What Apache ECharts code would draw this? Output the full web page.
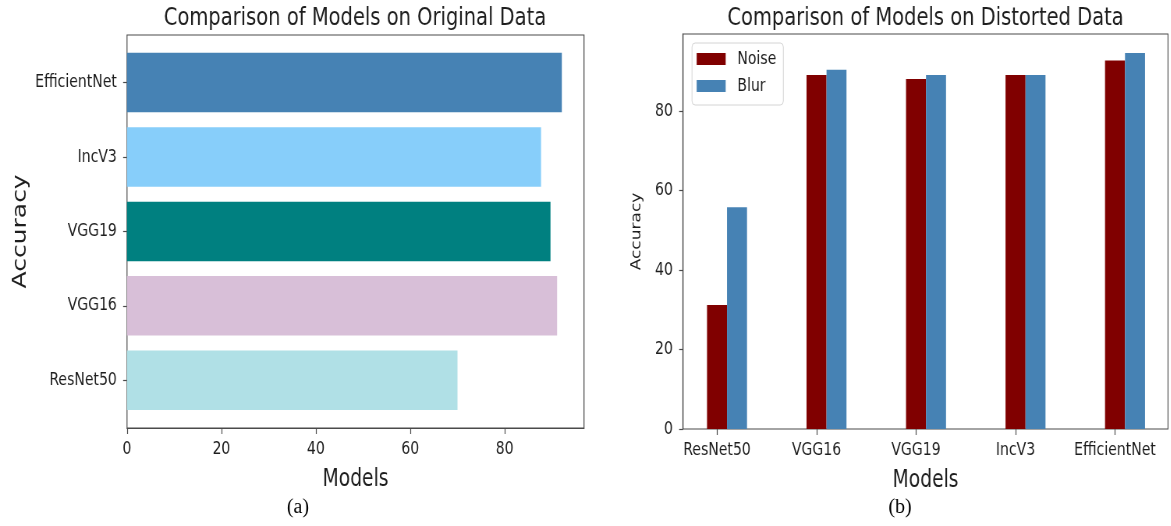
<!DOCTYPE html>
<html>
<head>
<meta charset="utf-8">
<script src="https://cdn.jsdelivr.net/npm/echarts@6/dist/echarts.min.js"></script>
<style>
  html, body { margin: 0; padding: 0; background: #fff; overflow: hidden; width: 1171px; height: 526px; }
  /* the figure is laid out wide and narrowed horizontally, like the exported plot */
  #chart { width: 1501px; height: 526px; transform: scaleX(0.78); transform-origin: 0 0; }
</style>
</head>
<body>
<div id="chart"></div>
<script>
// Panel (a): accuracy on the original data, listed bottom to top
const originalModels = ['ResNet50', 'VGG16', 'VGG19', 'IncV3', 'EfficientNet'];
const originalAccuracy = [70.0, 91.1, 89.7, 87.7, 92.1];
const originalColors = ['#B0E0E6', '#D8BFD8', '#008080', '#87CEFA', '#4682B4'];

// Panel (b): accuracy on distorted data
const distortedModels = ['ResNet50', 'VGG16', 'VGG19', 'IncV3', 'EfficientNet'];
const noiseAccuracy = [31.2, 89.1, 88.1, 89.1, 92.7];
const blurAccuracy = [55.8, 90.4, 89.1, 89.1, 94.6];

const tickValues = [0, 20, 40, 60, 80];

// horizontal squeeze applied to the container; X() turns on-page px into layout px
const S = 0.78;
const X = v => v / S;

const sans = "'DejaVu Sans', sans-serif";
const ink = '#1e1e1e';
const spine = '#4a4a4a';

const chart = echarts.init(document.getElementById('chart'));

const tickLabel = { color: ink, fontFamily: sans, fontSize: 18 };
const xTick = { show: true, length: 6, lineStyle: { color: spine, width: 1.2 } };
const yTick = { show: true, length: 5, lineStyle: { color: spine, width: 1.2 } };

chart.setOption({
  animation: false,
  legend: {
    data: ['Noise', 'Blur'],
    orient: 'vertical',
    left: X(692), top: 43,
    padding: [7, 9, 10, 6],
    itemGap: 9,
    itemWidth: X(29), itemHeight: 12,
    icon: 'rect',
    backgroundColor: '#fff',
    borderColor: '#d4d4d4', borderWidth: 1, borderRadius: 4,
    textStyle: { color: ink, fontFamily: sans, fontSize: 18, padding: [0, 0, 0, 10] }
  },
  graphic: [
    { type: 'text', x: X(355), y: 18, style: { text: 'Comparison of Models on Original Data', fill: ink, font: "25px 'DejaVu Sans', sans-serif", textAlign: 'center', textVerticalAlign: 'middle' } },
    { type: 'text', x: X(925.5), y: 18, style: { text: 'Comparison of Models on Distorted Data', fill: ink, font: "25px 'DejaVu Sans', sans-serif", textAlign: 'center', textVerticalAlign: 'middle' } },
    // panel captions keep their natural proportions
    { type: 'text', x: X(298), y: 508, scaleX: 1 / S, style: { text: '(a)', fill: '#000', font: "20px 'Liberation Serif', serif", textAlign: 'center', textVerticalAlign: 'middle' } },
    { type: 'text', x: X(900), y: 508, scaleX: 1 / S, style: { text: '(b)', fill: '#000', font: "20px 'Liberation Serif', serif", textAlign: 'center', textVerticalAlign: 'middle' } }
  ],
  grid: [
    // (a) frame and x scale
    { left: X(127), top: 35, width: X(457), height: 393, show: true, borderColor: spine, borderWidth: 1.2, backgroundColor: 'transparent', outerBoundsMode: 'none' },
    // (a) bar bands
    { left: X(127), top: 45.4, width: X(457), height: 372, outerBoundsMode: 'none' },
    // (b) frame and y scale
    { left: X(683), top: 34, width: X(485), height: 395, show: true, borderColor: spine, borderWidth: 1.2, backgroundColor: 'transparent', outerBoundsMode: 'none' },
    // (b) bar bands, centred on the Noise bars
    { left: X(667.25), top: 34, width: X(497.5), height: 395, outerBoundsMode: 'none' }
  ],
  xAxis: [
    { gridIndex: 0, type: 'value', min: 0, max: 96.8,
      name: 'Models', nameLocation: 'middle', nameGap: 40,
      nameTextStyle: { color: ink, fontFamily: sans, fontSize: 24 },
      axisLine: { show: true, lineStyle: { color: spine, width: 1.2 } },
      axisTick: Object.assign({ customValues: tickValues }, xTick),
      axisLabel: Object.assign({ customValues: tickValues, margin: 12 }, tickLabel),
      splitLine: { show: false } },
    { gridIndex: 1, type: 'value', min: 0, max: 96.8, show: false },
    { gridIndex: 2, type: 'value', min: 0, max: 1,
      name: 'Models', nameLocation: 'middle', nameGap: 40,
      nameTextStyle: { color: ink, fontFamily: sans, fontSize: 24 },
      axisLine: { show: false }, axisTick: { show: false }, axisLabel: { show: false },
      splitLine: { show: false } },
    { gridIndex: 3, type: 'category', data: distortedModels,
      axisLine: { show: false },
      axisTick: Object.assign({ alignWithLabel: true, interval: 0 }, xTick),
      axisLabel: Object.assign({ margin: 12, interval: 0, hideOverlap: false }, tickLabel) }
  ],
  yAxis: [
    { gridIndex: 0, type: 'value', min: 0, max: 1, show: false },
    { gridIndex: 1, type: 'category', data: originalModels,
      name: 'Accuracy', nameLocation: 'middle', nameGap: 124, nameRotate: 90,
      nameTextStyle: { color: ink, fontFamily: sans, fontSize: 25 },
      axisLine: { show: false },
      axisTick: Object.assign({ alignWithLabel: true, interval: 0 }, yTick),
      axisLabel: Object.assign({ margin: 13, interval: 0 }, tickLabel) },
    { gridIndex: 2, type: 'value', min: 0, max: 99.4,
      name: 'Accuracy', nameLocation: 'middle', nameGap: 51, nameRotate: 90,
      nameTextStyle: { color: ink, fontFamily: sans, fontSize: 17 },
      axisLine: { show: true, lineStyle: { color: spine, width: 1.2 } },
      axisTick: Object.assign({ customValues: tickValues }, yTick),
      axisLabel: Object.assign({ customValues: tickValues, margin: 13 }, tickLabel),
      splitLine: { show: false } },
    { gridIndex: 3, type: 'value', min: 0, max: 99.4, show: false }
  ],
  series: [
    { type: 'bar', xAxisIndex: 1, yAxisIndex: 1, barWidth: 59.5,
      data: originalAccuracy.map((v, i) => ({ value: v, itemStyle: { color: originalColors[i] } })) },
    // empty leading slot so each Noise bar sits on its category tick
    { type: 'bar', name: 'slot', xAxisIndex: 3, yAxisIndex: 3, barWidth: X(20), barGap: '0%',
      data: distortedModels.map(() => '-') },
    { type: 'bar', name: 'Noise', xAxisIndex: 3, yAxisIndex: 3, barWidth: X(20), barGap: '0%',
      itemStyle: { color: '#800000' }, data: noiseAccuracy },
    { type: 'bar', name: 'Blur', xAxisIndex: 3, yAxisIndex: 3, barWidth: X(20), barGap: '0%',
      itemStyle: { color: '#4682B4' }, data: blurAccuracy }
  ]
});
</script>
</body>
</html>
